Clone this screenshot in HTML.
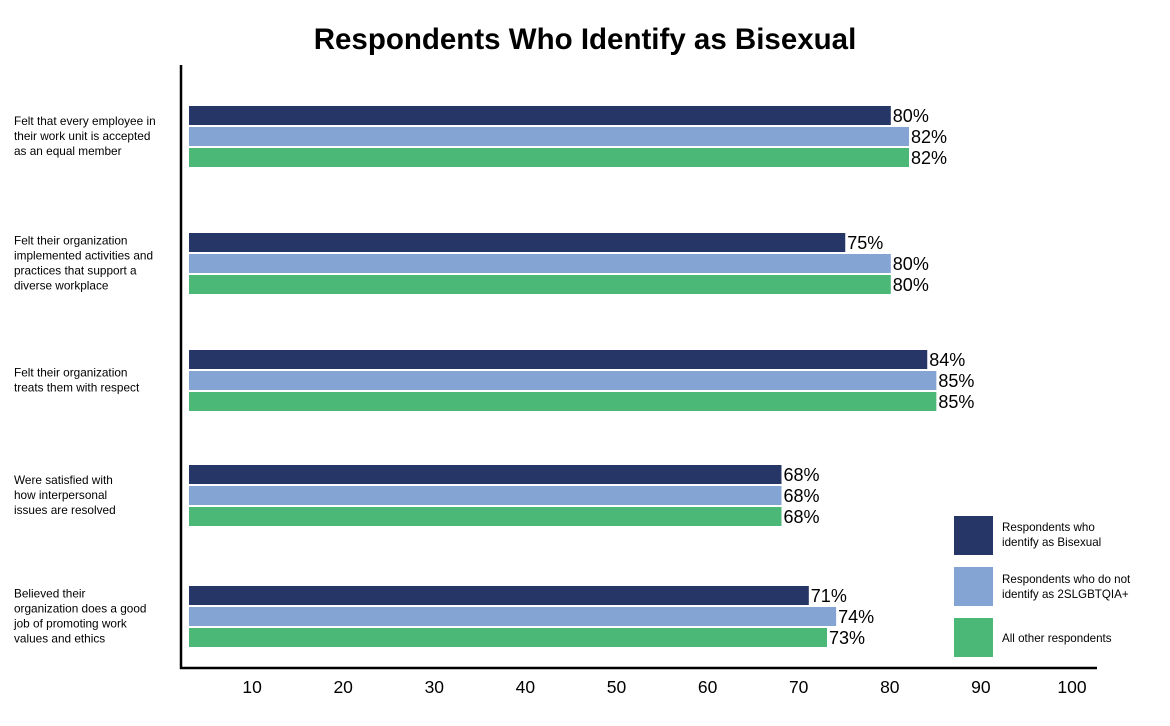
<!DOCTYPE html>
<html><head><meta charset="utf-8"><style>
body{margin:0;background:#fff;font-family:"Liberation Sans",Arial,sans-serif;}
</style></head><body>
<svg width="1170" height="721" viewBox="0 0 1170 721" xmlns="http://www.w3.org/2000/svg" font-family="Liberation Sans, Arial, sans-serif">
<text x="585" y="49" text-anchor="middle" font-size="29.5" font-weight="bold" fill="#000">Respondents Who Identify as Bisexual</text>
<g id="bars"></g>
<g id="cats"></g>
<g id="ticks"></g>
<line x1="181" y1="65" x2="181" y2="669" stroke="#000" stroke-width="2.5"/>
<line x1="180" y1="668" x2="1097" y2="668" stroke="#000" stroke-width="2.5"/>
<g>
<rect x="954" y="516" width="39" height="39" fill="#253667"/>
<text font-size="11.6" fill="#000"><tspan x="1002" y="531">Respondents who</tspan><tspan x="1002" y="546">identify as Bisexual</tspan></text>
<rect x="954" y="567" width="39" height="39" fill="#84a4d4"/>
<text font-size="11.6" fill="#000"><tspan x="1002" y="583">Respondents who do not</tspan><tspan x="1002" y="598">identify as 2SLGBTQIA+</tspan></text>
<rect x="954" y="618" width="39" height="39" fill="#4cb877"/>
<text x="1002" y="642" font-size="11.6" fill="#000">All other respondents</text>
</g>
</svg>
<script>
const categories=[
 ["Felt that every employee in","their work unit is accepted","as an equal member"],
 ["Felt their organization","implemented activities and","practices that support a","diverse workplace"],
 ["Felt their organization","treats them with respect"],
 ["Were satisfied with","how interpersonal","issues are resolved"],
 ["Believed their","organization does a good","job of promoting work","values and ethics"]
];
const bisexual=[80,75,84,68,71];
const notLGBT=[82,80,85,68,74];
const allOther=[82,80,85,68,73];
const tickValues=[10,20,30,40,50,60,70,80,90,100];
const NS='http://www.w3.org/2000/svg';
const x=v=>162+v*9.11;
const groupTop=[106,233,350,465,586];
const barStart=189,barH=19,barStep=21;
const series=[[bisexual,'#253667','bisexual'],[notLGBT,'#84a4d4','not-2slgbtqia'],[allOther,'#4cb877','all-other']];
const bars=document.getElementById('bars');
categories.forEach((c,i)=>{
 series.forEach((s,j)=>{
  const v=s[0][i],y=groupTop[i]+j*barStep;
  const r=document.createElementNS(NS,'rect');
  r.setAttribute('x',barStart);r.setAttribute('y',y);
  r.setAttribute('width',x(v)-barStart);r.setAttribute('height',barH);
  r.setAttribute('fill',s[1]);
  
  
  bars.appendChild(r);
  const t=document.createElementNS(NS,'text');
  t.setAttribute('x',x(v)+2);t.setAttribute('y',y+16);
  t.setAttribute('font-size','18');t.textContent=v+'%';
  
  
  bars.appendChild(t);
 });
 const lines=c.length, cy=groupTop[i]+30;
 const t=document.createElementNS(NS,'text');
 t.setAttribute('font-size','11.8');
 
 
 c.forEach((l,k)=>{const ts=document.createElementNS(NS,'tspan');ts.setAttribute('x',14);ts.setAttribute('y',cy-(lines-1)*7.5+k*15+4);ts.textContent=l;t.appendChild(ts);});
 document.getElementById('cats').appendChild(t);
});
const tk=document.getElementById('ticks');
tickValues.forEach(v=>{
 const t=document.createElementNS(NS,'text');
 t.setAttribute('x',x(v)-1);t.setAttribute('y',693);
 t.setAttribute('text-anchor','middle');t.setAttribute('font-size','17.5');
 t.textContent=v;
 
 
 tk.appendChild(t);
});
</script>
</body></html>
